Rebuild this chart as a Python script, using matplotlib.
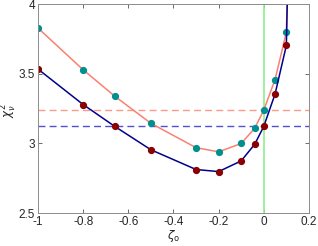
import matplotlib
matplotlib.use("Agg")
import matplotlib.pyplot as plt
import numpy as np

# data
zeta = [-1.0, -0.8, -0.66, -0.5, -0.3, -0.2, -0.1, -0.04, 0.0, 0.05, 0.1, 0.15]
chi_teal = [3.83, 3.53, 3.34, 3.145, 2.97, 2.94, 3.00, 3.11, 3.24, 3.46, 3.80, 7.0]
chi_red = [3.535, 3.28, 3.123, 2.955, 2.813, 2.798, 2.875, 2.995, 3.123, 3.356, 3.705, 7.5]
thr_teal = 3.243
thr_red = 3.128

plt.rcParams['font.family'] = ['Liberation Sans', 'DejaVu Sans']
plt.rcParams['font.size'] = 8.5
plt.rcParams['mathtext.fontset'] = 'dejavusans'

fig = plt.figure(figsize=(3.18, 2.46), dpi=100)
ax = fig.add_axes([0.1195, 0.134, 0.852, 0.848])

ax.axhline(thr_teal, color='#fa9a8a', lw=1.0, ls=(0, (5, 3)))
ax.axhline(thr_red, color='#5050d0', lw=1.0, ls=(0, (5, 3)))
ax.axvline(0, color='#90ee90', lw=1.2)

ax.plot(zeta, chi_teal, '-', color='#fa8072', lw=1.1, marker='o', ms=4.2,
        mfc='#009090', mec='#009090')
ax.plot(zeta, chi_red, '-', color='#00008b', lw=1.1, marker='o', ms=4.2,
        mfc='#8b0000', mec='#8b0000')

ax.set_xlim(-1, 0.2)
ax.set_ylim(2.5, 4)
ax.set_xticks([-1, -0.8, -0.6, -0.4, -0.2, 0, 0.2])
ax.set_xticklabels(['-1', '-0.8', '-0.6', '-0.4', '-0.2', '0', '0.2'])
ax.set_yticks([2.5, 3, 3.5, 4])
ax.set_yticklabels(['2.5', '3', '3.5', '4'])
ax.tick_params(direction='in', top=True, right=True, length=3, width=0.6,
               color='#555555', labelcolor='#262626', pad=2)
for s in ax.spines.values():
    s.set_color('#8c8c8c')
    s.set_linewidth(0.7)

ax.set_xlabel(r'$\zeta_{\rm o}$', labelpad=0, color='#262626')
ax.set_ylabel(r'$\chi^2_\nu$', color='#262626')
ax.yaxis.set_label_coords(-0.07, 0.49)

fig.savefig('out.png', dpi=100)
